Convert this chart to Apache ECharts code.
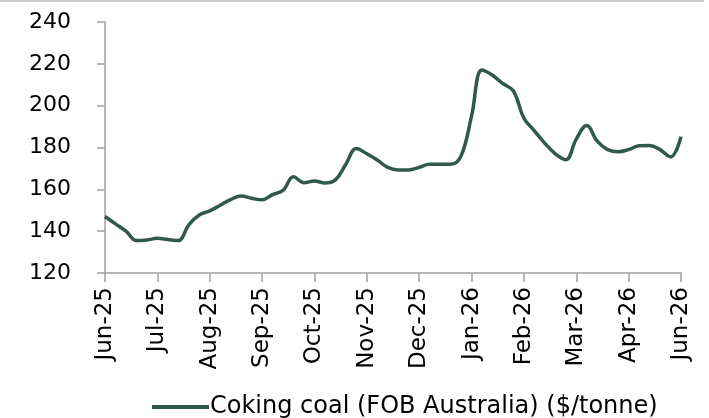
<!DOCTYPE html>
<html>
<head>
<meta charset="utf-8">
<script src="https://cdn.jsdelivr.net/npm/echarts@6/dist/echarts.min.js"></script>
<style>html,body{margin:0;padding:0;background:#fff}#c{width:709px;height:418px}</style>
</head>
<body>
<div id="c"></div>
<script>
// Weekly-ish observations; every 5th point carries a month tick label
const tickLabels = ['Jun-25','Jul-25','Aug-25','Sep-25','Oct-25','Nov-25','Dec-25','Jan-26','Feb-26','Mar-26','Apr-26','Jun-26'];
const seriesName = 'Coking coal (FOB Australia) ($/tonne)';
const values = [
  147, 143.5, 140, 135.5, 135.8, 136.6, 136, 135.5, 143, 147.7,
  149.7, 152.4, 155.1, 156.8, 155.7, 155, 157.5, 159.5, 166, 163.2,
  164, 163, 164.5, 172, 179.5, 177, 174, 170.5, 169.3, 169.3,
  170.5, 172, 172, 172, 176, 195, 217, 214.5, 210.5, 207,
  194, 188, 182, 177, 174.2, 184, 190.5, 183, 179, 178,
  179, 180.8, 181, 179, 175.5, 185.2
];
const categories = values.map((v, i) => String(i));
const yTicks = { min: 120, max: 240, step: 20 };

const FONT = 'DejaVu Sans';
const chart = echarts.init(document.getElementById('c'), null, { renderer: 'canvas' });
chart.setOption({
  animation: false,
  graphic: [{
    type: 'line', shape: { x1: 0, y1: 1, x2: 704, y2: 1 },
    style: { stroke: '#c0c0c0', lineWidth: 1.5 }
  }],
  grid: { left: 105, right: 28, top: 22, bottom: 145, containLabel: false },
  xAxis: {
    type: 'category',
    data: categories,
    boundaryGap: false,
    axisLine: { lineStyle: { color: '#a0a0a0', width: 1.5 } },
    axisTick: { show: true, interval: 4, length: 9, inside: false, lineStyle: { color: '#a0a0a0', width: 1.5 } },
    axisLabel: {
      interval: 4,
      rotate: 90,
      margin: 14,
      color: '#000',
      fontFamily: FONT,
      fontSize: 23,
      formatter: (v, idx) => tickLabels[Math.round(idx / 5)] || ''
    },
    splitLine: { show: false }
  },
  yAxis: {
    type: 'value',
    min: yTicks.min, max: yTicks.max, interval: yTicks.step,
    axisLine: { show: true, lineStyle: { color: '#a0a0a0', width: 1.5 } },
    axisTick: { show: true, length: 8, lineStyle: { color: '#a0a0a0', width: 1.5 } },
    axisLabel: { color: '#000', fontFamily: FONT, fontSize: 22, margin: 34 },
    splitLine: { show: false }
  },
  legend: {
    top: 390,
    left: 147,
    itemWidth: 57,
    itemHeight: 4,
    itemGap: 4,
    textStyle: { color: '#000', fontFamily: FONT, fontSize: 24, padding: [0,0,0,-4] },
    data: [{ name: seriesName, icon: 'rect' }]
  },
  series: [{
    name: seriesName,
    type: 'line',
    data: values,
    smooth: 0.4,
    symbol: 'none',
    showSymbol: false,
    lineStyle: { color: '#2f5a4a', width: 3.5 },
    itemStyle: { color: '#2f5a4a' }
  }]
});
</script>
</body>
</html>
